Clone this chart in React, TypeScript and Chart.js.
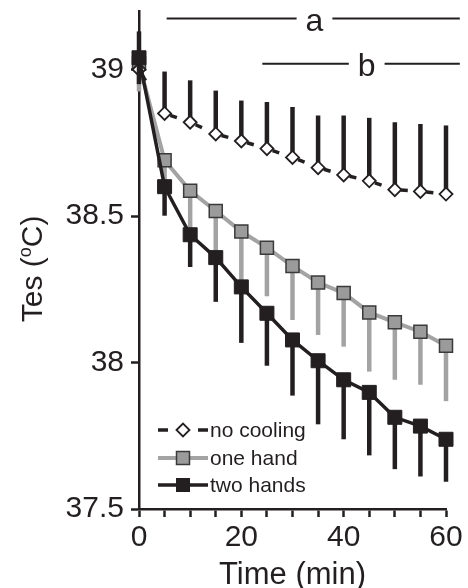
import React, { useEffect, useRef } from 'react';
import { Chart, registerables } from 'chart.js';

Chart.register(...registerables);

const FONT = '"Liberation Sans", Arial, Helvetica, sans-serif';
const INK = '#231f20';
const GREY = '#a3a3a3';
const GREY_FILL = '#9b9b9b';

// ---- data ----
const minutes = [0, 5, 10, 15, 20, 25, 30, 35, 40, 45, 50, 55, 60];
const seriesLabels = ['no cooling', 'one hand', 'two hands'];

const noCooling = [39.0, 38.85, 38.82, 38.78, 38.756, 38.73, 38.7, 38.665, 38.64, 38.62, 38.59, 38.584, 38.575];
const noCoolingErrTop = [39.13, 38.993, 38.963, 38.928, 38.894, 38.889, 38.872, 38.843, 38.843, 38.835, 38.82, 38.814, 38.809];

const oneHand = [39.02, 38.69, 38.586, 38.517, 38.447, 38.392, 38.329, 38.273, 38.237, 38.171, 38.137, 38.105, 38.057];
const oneHandErrBottom = [38.925, 38.62, 38.45, 38.38, 38.27, 38.226, 38.145, 38.094, 38.054, 37.969, 37.941, 37.924, 37.868];

const twoHands = [39.04, 38.6, 38.436, 38.358, 38.258, 38.168, 38.077, 38.006, 37.941, 37.898, 37.813, 37.783, 37.738];
const twoHandsErrBottom = [38.95, 38.501, 38.326, 38.207, 38.067, 37.989, 37.887, 37.789, 37.738, 37.683, 37.636, 37.611, 37.593];

const yTicks = [37.5, 38, 38.5, 39];
const yTickLabels = ['37.5', '38', '38.5', '39'];
const xTickLabels = [0, 20, 40, 60];

// significance bars
const sigLabels = ['a', 'b'];
const sigStart = [5.4, 24.1];
const sigEnd = [62.7, 62.7];
const sigLevel = [39.174, 39.02];
const sigLabelAt = [34.3, 44.5];

const errEnds = [noCoolingErrTop, oneHandErrBottom, twoHandsErrBottom];
const errColors = [INK, GREY, INK];

const errorBarPlugin = {
  id: 'errorBars',
  beforeDatasetDraw(chart: any, args: any) {
    const i = args.index;
    const ds = chart.data.datasets[i];
    const ends = errEnds[i];
    const { ctx, scales } = chart;
    const x = scales.x;
    const y = scales.y;
    ctx.save();
    ctx.strokeStyle = errColors[i];
    ctx.lineWidth = 4.5;
    ctx.lineCap = 'butt';
    ds.data.forEach((p: any, k: number) => {
      const px = x.getPixelForValue(p.x);
      ctx.beginPath();
      ctx.moveTo(px, y.getPixelForValue(p.y));
      ctx.lineTo(px, y.getPixelForValue(ends[k]));
      ctx.stroke();
    });
    ctx.restore();
  },
};

const decorPlugin = {
  id: 'decor',
  afterDraw(chart: any) {
    const { ctx, chartArea, scales } = chart;
    const x = scales.x;
    const y = scales.y;
    ctx.save();
    ctx.fillStyle = INK;
    ctx.strokeStyle = INK;

    // significance bars
    ctx.font = `32px ${FONT}`;
    ctx.lineWidth = 2;
    sigLabels.forEach((lab, i) => {
      const py = y.getPixelForValue(sigLevel[i]);
      const cx = x.getPixelForValue(sigLabelAt[i]);
      const w = ctx.measureText(lab).width;
      const gap = w / 2 + 9;
      ctx.beginPath();
      ctx.moveTo(x.getPixelForValue(sigStart[i]), py);
      ctx.lineTo(cx - gap, py);
      ctx.moveTo(cx + gap, py);
      ctx.lineTo(x.getPixelForValue(sigEnd[i]), py);
      ctx.stroke();
      ctx.textAlign = 'center';
      ctx.textBaseline = 'alphabetic';
      ctx.fillText(lab, cx, py + 12);
    });

    // legend
    const lx = chartArea.left + 19;
    const rows = [chartArea.bottom - 79, chartArea.bottom - 51, chartArea.bottom - 24];
    ctx.font = `21px ${FONT}`;
    ctx.textAlign = 'left';
    ctx.textBaseline = 'middle';
    rows.forEach((ry, i) => {
      const mx = lx + 25;
      ctx.lineCap = 'butt';
      if (i === 0) {
        ctx.strokeStyle = INK;
        ctx.lineWidth = 3.5;
        ctx.beginPath();
        ctx.moveTo(lx, ry);
        ctx.lineTo(lx + 10, ry);
        ctx.moveTo(lx + 40, ry);
        ctx.lineTo(lx + 50, ry);
        ctx.stroke();
        ctx.beginPath();
        ctx.moveTo(mx - 6.5, ry);
        ctx.lineTo(mx, ry - 6.5);
        ctx.lineTo(mx + 6.5, ry);
        ctx.lineTo(mx, ry + 6.5);
        ctx.closePath();
        ctx.fillStyle = '#ffffff';
        ctx.fill();
        ctx.lineWidth = 1.8;
        ctx.stroke();
      } else if (i === 1) {
        ctx.strokeStyle = GREY;
        ctx.lineWidth = 4;
        ctx.beginPath();
        ctx.moveTo(lx, ry);
        ctx.lineTo(lx + 50, ry);
        ctx.stroke();
        ctx.fillStyle = GREY_FILL;
        ctx.fillRect(mx - 6.5, ry - 6.5, 13, 13);
        ctx.strokeStyle = '#3a3a3a';
        ctx.lineWidth = 1.5;
        ctx.strokeRect(mx - 6.5, ry - 6.5, 13, 13);
      } else {
        ctx.strokeStyle = INK;
        ctx.lineWidth = 3.5;
        ctx.beginPath();
        ctx.moveTo(lx, ry);
        ctx.lineTo(lx + 50, ry);
        ctx.stroke();
        ctx.fillStyle = INK;
        ctx.fillRect(mx - 7, ry - 7, 14, 14);
      }
      ctx.fillStyle = INK;
      ctx.fillText(seriesLabels[i], lx + 52, ry + 1);
    });

    // x title
    ctx.font = `31px ${FONT}`;
    ctx.textAlign = 'center';
    ctx.textBaseline = 'alphabetic';
    ctx.fillText('Time (min)', (chartArea.left + chartArea.right) / 2, chartArea.bottom + 75);

    // y title with superscript o
    ctx.translate(42, (chartArea.top + chartArea.bottom) / 2 + 9);
    ctx.rotate(-Math.PI / 2);
    const big = `30px ${FONT}`;
    const small = `18px ${FONT}`;
    ctx.font = big;
    const p1 = 'Tes (';
    const p3 = 'C)';
    const w1 = ctx.measureText(p1).width;
    const w3 = ctx.measureText(p3).width;
    ctx.font = small;
    const w2 = ctx.measureText('o').width;
    const total = w1 + w2 + w3;
    let cx = -total / 2;
    ctx.textAlign = 'left';
    ctx.font = big;
    ctx.fillText(p1, cx, 0);
    cx += w1;
    ctx.font = small;
    ctx.fillText('o', cx, -11);
    cx += w2;
    ctx.font = big;
    ctx.fillText(p3, cx, 0);

    ctx.restore();
  },
};

export default function App() {
  const ref = useRef<HTMLCanvasElement>(null);

  useEffect(() => {
    document.body.style.margin = '0';
    const canvas = ref.current;
    if (!canvas) return;
    const toPts = (vals: number[]) => minutes.map((m, i) => ({ x: m, y: vals[i] }));

    const chart = new Chart(canvas, {
      type: 'line',
      data: {
        datasets: [
          {
            label: seriesLabels[0],
            data: toPts(noCooling),
            borderColor: INK,
            borderWidth: 3.5,
            pointStyle: 'rectRot',
            pointRadius: 6.5,
            pointBackgroundColor: '#ffffff',
            pointBorderColor: INK,
            pointBorderWidth: 1.8,
            order: 1,
            clip: false,
            segment: {
              borderDash: () => [7, 40],
              borderDashOffset: (c: any) => (c.p0DataIndex % 2 ? -6 : -6.001),
            },
          } as any,
          {
            label: seriesLabels[1],
            data: toPts(oneHand),
            borderColor: GREY,
            borderWidth: 4,
            pointStyle: 'rect',
            pointRadius: 9.2,
            pointBackgroundColor: GREY_FILL,
            pointBorderColor: '#3a3a3a',
            pointBorderWidth: 1.5,
            order: 2,
            clip: false,
          },
          {
            label: seriesLabels[2],
            data: toPts(twoHands),
            borderColor: INK,
            borderWidth: 3.5,
            pointStyle: 'rect',
            pointRadius: 9.9,
            pointBackgroundColor: INK,
            pointBorderColor: INK,
            pointBorderWidth: 1,
            order: 0,
            clip: false,
          },
        ],
      },
      options: {
        animation: false,
        responsive: false,
        devicePixelRatio: 1,
        layout: { padding: { top: 9, right: 22, left: 0, bottom: 0 } },
        plugins: {
          legend: { display: false },
          tooltip: { enabled: false },
        },
        scales: {
          x: {
            type: 'linear',
            min: 0,
            max: 60,
            afterFit: (s: any) => {
              s.height = 79;
              s.paddingLeft = 0;
              s.paddingRight = 0;
            },
            ticks: {
              stepSize: 5,
              autoSkip: false,
              maxRotation: 0,
              padding: 3,
              color: INK,
              font: { family: FONT, size: 30 },
              callback: (v: any) => (xTickLabels.includes(Number(v)) ? String(v) : ''),
            },
            grid: {
              display: true,
              drawOnChartArea: false,
              drawTicks: true,
              tickLength: 8,
              tickWidth: 2.5,
              tickColor: INK,
            },
            border: { display: true, width: 2.5, color: INK },
          },
          y: {
            type: 'linear',
            min: 37.5,
            max: 39.2,
            afterBuildTicks: (s: any) => {
              s.ticks = yTicks.map((v) => ({ value: v }));
            },
            afterFit: (s: any) => {
              s.width = 139;
              s.paddingTop = 0;
              s.paddingBottom = 0;
            },
            ticks: {
              padding: 7,
              color: INK,
              font: { family: FONT, size: 30 },
              callback: (v: any) => {
                const k = yTicks.indexOf(Number(v));
                return k >= 0 ? yTickLabels[k] : '';
              },
            },
            grid: {
              display: true,
              drawOnChartArea: false,
              drawTicks: true,
              tickLength: 8,
              tickWidth: 2.5,
              tickColor: INK,
            },
            border: { display: true, width: 2.5, color: INK },
          },
        },
      },
      plugins: [errorBarPlugin, decorPlugin],
    });

    return () => chart.destroy();
  }, []);

  return (
    <div style={{ width: 468, height: 588 }}>
      <canvas ref={ref} width={468} height={588} style={{ display: 'block', width: 468, height: 588 }} />
    </div>
  );
}
